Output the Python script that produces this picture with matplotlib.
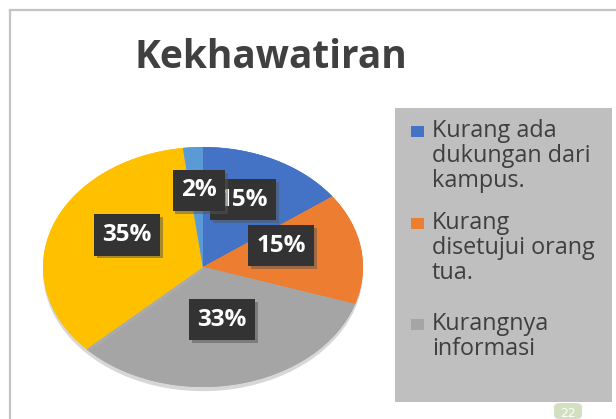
import numpy as np
import matplotlib
matplotlib.use("Agg")
import matplotlib.pyplot as plt
import matplotlib.patches as mpatches
import matplotlib.patheffects as pe

# data
categories = ["Kurang ada\ndukungan dari\nkampus.",
              "Kurang\ndisetujui orang\ntua.",
              "Kurangnya\ninformasi",
              "Lainnya",
              "Lainnya 2"]
values = [15, 15, 33, 35, 2]
colors = ["#4472C4", "#ED7D31", "#A5A5A5", "#FFC000", "#5B9BD5"]

# label placement: radial distance and angle offset from wedge middle
label_r = [0.613, 0.52, 0.457, 0.545, 0.64]
label_dang = [2.9, 11, 2.4, -9.5, -1.4]

W, H = 616, 419
fig = plt.figure(figsize=(W / 100, H / 100), dpi=100)
fig.patch.set_facecolor("white")

# outer chart frame (left + top only visible)
fig.add_artist(plt.Line2D([10 / W, 10 / W], [0, 1 - 10 / H], color="#c3c3c3", lw=1.6))
fig.add_artist(plt.Line2D([10 / W, 1], [1 - 10 / H, 1 - 10 / H], color="#c3c3c3", lw=1.6))

fig.text(271 / W, 1 - 57 / H, "Kekhawatiran", ha="center", va="center",
         fontsize=28, fontweight="bold", color="#404040", family="Open Sans")

# pie axes: ellipse centre (203,267), rx 160, ry 120 px
cx, cy, rx, ry, m = 203, 267, 160, 120, 1.1
ax = fig.add_axes([(cx - rx * m) / W, (H - cy - ry * m) / H, 2 * rx * m / W, 2 * ry * m / H])
wedges, _ = ax.pie(values, colors=colors, startangle=90, counterclock=False,
                   wedgeprops=dict(edgecolor="none"))
for w in wedges:
    w.set_path_effects([pe.withSimplePatchShadow(offset=(0, -3), shadow_rgbFace="#b0b0b0", alpha=0.5),
                        pe.Normal()])
ax.set_aspect("auto")
ax.set_xlim(-m, m)
ax.set_ylim(-m, m)
ax.axis("off")

# data labels (the 2% box sits on top of the blue 15% box)
order_z = [5, 5, 5, 5, 6]
for w, v, r, da, z in zip(wedges, values, label_r, label_dang, order_z):
    ang = np.deg2rad((w.theta1 + w.theta2) / 2 + da)
    t = ax.text(r * np.cos(ang), r * np.sin(ang), f"{v}%", ha="center", va="center",
                fontsize=17.5, fontweight="bold", color="white", family="Open Sans", zorder=z,
                bbox=dict(boxstyle="square,pad=0.35", facecolor="#333333", edgecolor="none"))
    t.get_bbox_patch().set_path_effects([
        pe.withSimplePatchShadow(offset=(2, -2), shadow_rgbFace="#555555", alpha=0.5),
        pe.Normal()])

# legend box
fig.add_artist(mpatches.Rectangle((395 / W, 1 - 402 / H), 217 / W, 294 / H,
                                  transform=fig.transFigure, facecolor="#bfbfbf",
                                  edgecolor="none"))
entry_top = [119, 211, 312]
for w, lab, y in zip(wedges[:3], categories[:3], entry_top):
    fig.add_artist(mpatches.Rectangle((411 / W, 1 - (y + 18) / H), 13 / W, 11 / H,
                                      transform=fig.transFigure,
                                      facecolor=w.get_facecolor(), edgecolor="none"))
    fig.text(432 / W, 1 - y / H, lab, ha="left", va="top", fontsize=16.8,
             family="Open Sans", color="#3f3f3f", linespacing=1.05)

# slide number badge
fig.add_artist(mpatches.FancyBboxPatch((554 / W, 0), 28 / W, 16 / H,
                                       boxstyle="round,pad=0,rounding_size=0.01",
                                       transform=fig.transFigure, facecolor="#d3e0bf",
                                       edgecolor="none"))
fig.text(568 / W, 6 / H, "22", ha="center", va="center", fontsize=9, color="white")

fig.savefig("out.png", dpi=100)
